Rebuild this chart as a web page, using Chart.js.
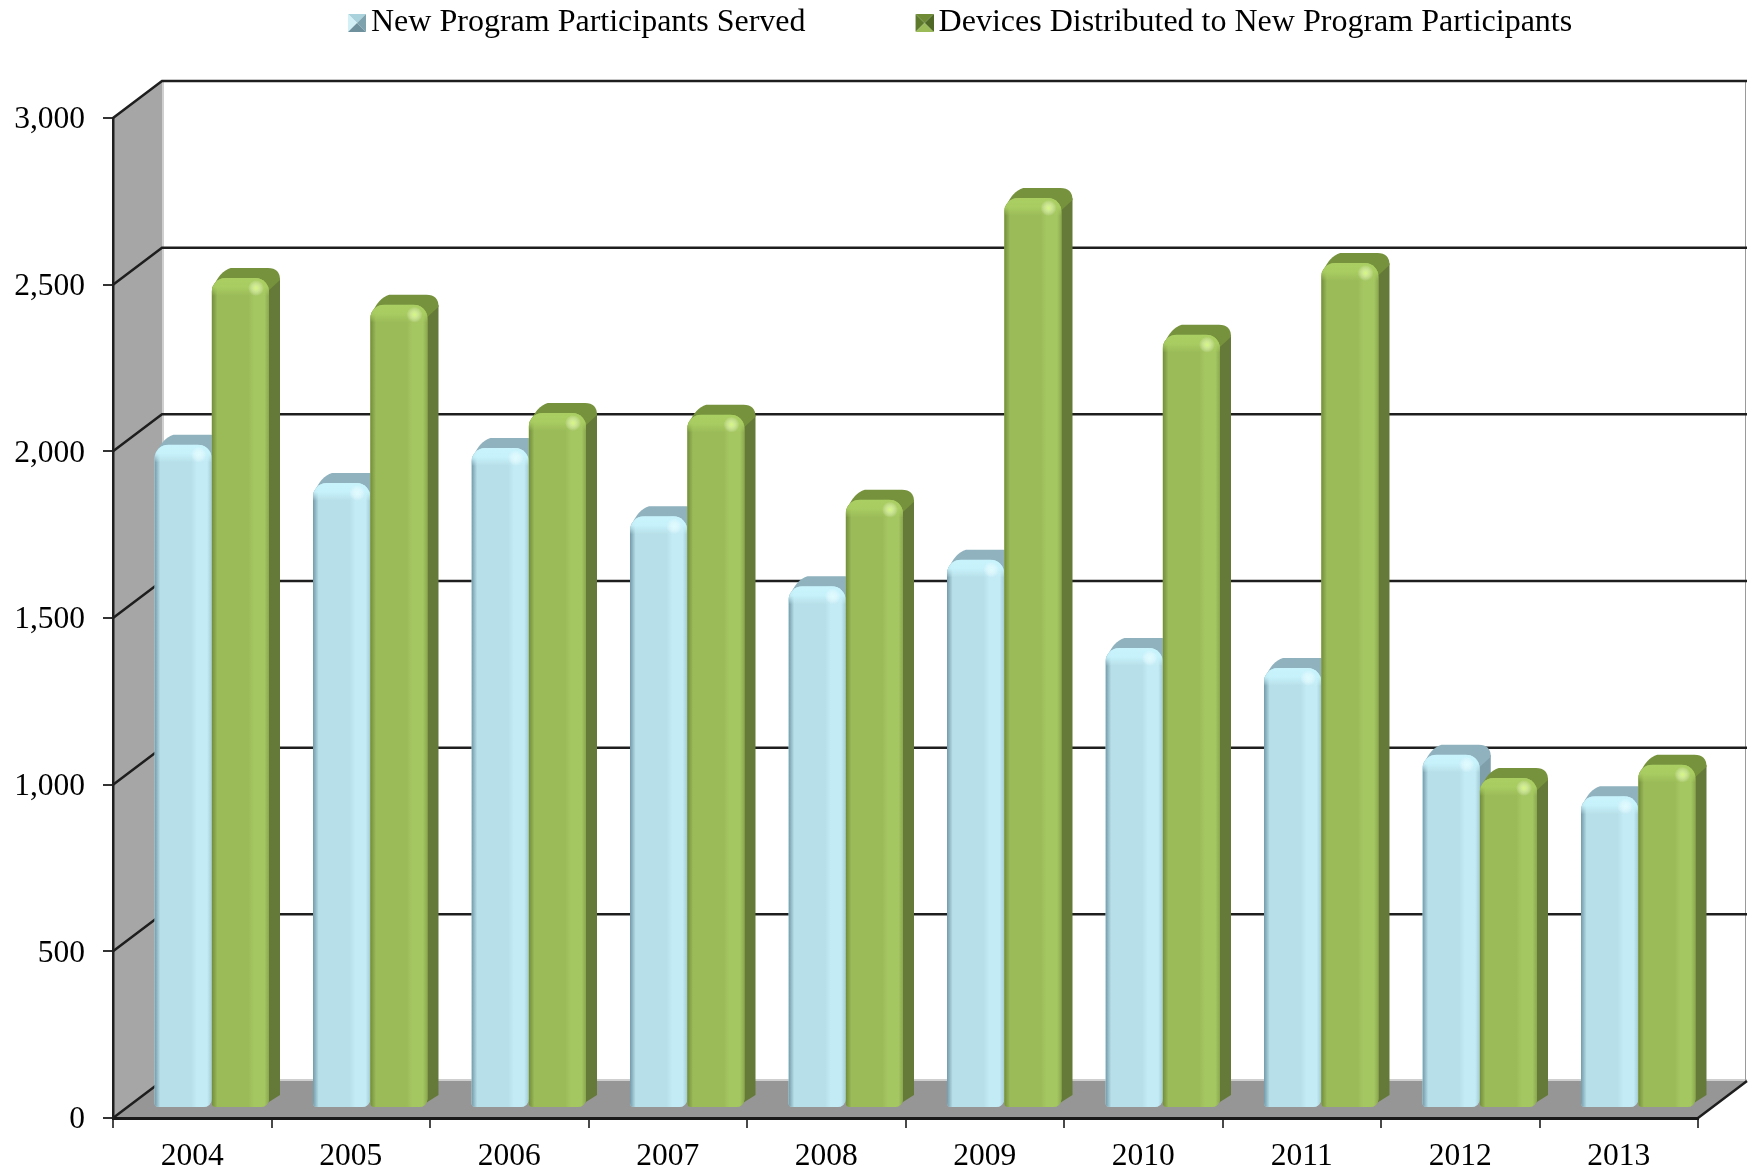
<!DOCTYPE html>
<html>
<head>
<meta charset="utf-8">
<title>New Program Participants and Devices</title>
<script src="https://cdn.jsdelivr.net/npm/chart.js@4/dist/chart.umd.js"></script>
<style>
    html, body { margin: 0; padding: 0; background: #fff; }
    canvas { display: block; }
</style>
</head>
<body>
<canvas id="chart" width="1748" height="1173"></canvas>
<script>
const years = ['2004', '2005', '2006', '2007', '2008', '2009', '2010', '2011', '2012', '2013'];
const participants = [1990, 1875, 1980, 1775, 1565, 1645, 1380, 1320, 1060, 935];
const devices = [2490, 2410, 2085, 2080, 1825, 2730, 2320, 2535, 990, 1030];
const yTicks = [0, 500, 1000, 1500, 2000, 2500, 3000];

const fontName = '"Liberation Serif", "Times New Roman", serif';
const wallDepth = { x: 49, y: 37 };
const barShift = { x: 19.5, y: 10 };
const barDepth = { x: 11, y: 10 };
const cornerRadius = 14;

const blueLook = {
    base: '#b7dfe9', side: '#7f9fab', top: '#8fb2be', edge: 'rgba(112,150,165,0.95)',
    shine: '#c3ebf5', rim: '#a3cbd6', bevel: '200,243,252', dot: 'rgba(226,252,255,0.9)'
};
const greenLook = {
    base: '#9bbb59', side: '#657a38', top: '#76923c', edge: 'rgba(112,138,58,0.95)',
    shine: '#a5c762', rim: '#8aa84e', bevel: '170,206,98', dot: 'rgba(216,250,130,0.95)'
};

function makeMarker(top, left, right, bottom) {
    const c = document.createElement('canvas');
    c.width = 24;
    c.height = 18;
    const g = c.getContext('2d');
    const x0 = 6, x1 = 24, y0 = 0, y1 = 18, mx = 15, my = 9;
    const tri = (color, ax, ay, bx, by) => {
        g.fillStyle = color;
        g.beginPath();
        g.moveTo(ax, ay);
        g.lineTo(bx, by);
        g.lineTo(mx, my);
        g.closePath();
        g.fill();
    };
    tri(top, x0, y0, x1, y0);
    tri(left, x0, y0, x0, y1);
    tri(right, x1, y0, x1, y1);
    tri(bottom, x0, y1, x1, y1);
    return c;
}

const markers = [
    makeMarker('#a9d2dd', '#d3f0f6', '#7fa3ae', '#6f919d'),
    makeMarker('#6f8b35', '#5d7a2c', '#4f6825', '#9bbb59')
];

function paintBar(ctx, bar, look) {
    const l = bar.x - bar.width / 2;
    const r = bar.x + bar.width / 2;
    const t = bar.y;
    const b = bar.base;
    const w = r - l;
    const dx = barDepth.x;
    const dy = barDepth.y;

    // side face
    ctx.fillStyle = look.side;
    ctx.beginPath();
    ctx.moveTo(r - 2, t + 12);
    ctx.lineTo(r + dx, t - dy + 10);
    ctx.lineTo(r + dx, b - dy - 2);
    ctx.lineTo(r - 8, b);
    ctx.closePath();
    ctx.fill();

    // top face
    ctx.fillStyle = look.top;
    ctx.beginPath();
    ctx.moveTo(l + 1, t + 10);
    ctx.quadraticCurveTo(l + dx - 3, t - dy + 3, l + dx + 8, t - dy);
    ctx.lineTo(r + dx - 12, t - dy);
    ctx.quadraticCurveTo(r + dx, t - dy, r + dx, t - dy + 12);
    ctx.lineTo(r - 2, t + 14);
    ctx.closePath();
    ctx.fill();

    // front face comes from the library, shading goes on top of it
    bar.draw(ctx);

    ctx.save();
    ctx.beginPath();
    ctx.roundRect(l, t, w, b - t, [cornerRadius, cornerRadius, 8, 4]);
    ctx.clip();

    const band = ctx.createLinearGradient(l, 0, r, 0);
    band.addColorStop(0, look.edge);
    band.addColorStop(0.1, look.base);
    band.addColorStop(0.64, look.base);
    band.addColorStop(0.74, look.shine);
    band.addColorStop(0.92, look.shine);
    band.addColorStop(1, look.rim);
    ctx.fillStyle = band;
    ctx.fillRect(l, t, w, b - t);

    const cap = ctx.createLinearGradient(0, t, 0, t + 18);
    cap.addColorStop(0, 'rgba(' + look.bevel + ',1)');
    cap.addColorStop(0.5, 'rgba(' + look.bevel + ',0.9)');
    cap.addColorStop(1, 'rgba(' + look.bevel + ',0)');
    ctx.fillStyle = cap;
    ctx.fillRect(l, t, w, 18);

    const spot = ctx.createRadialGradient(r - 13, t + 10, 0, r - 13, t + 10, 8);
    spot.addColorStop(0, look.dot);
    spot.addColorStop(1, 'rgba(255,255,255,0)');
    ctx.fillStyle = spot;
    ctx.fillRect(r - 23, t, 20, 20);
    ctx.restore();
}

const room3d = {
    id: 'room3d',
    beforeDraw(chart) {
        const { ctx, chartArea: area, scales } = chart;
        const y0 = scales.y.getPixelForValue(0);
        const yTop = scales.y.getPixelForValue(3000);
        const backL = area.left + wallDepth.x;
        const backR = area.right + wallDepth.x;
        const backFloor = y0 - wallDepth.y;
        const backTop = yTop - wallDepth.y;

        // y labels sit a little under their ticks in the original
        const items = scales.y.getLabelItems(area);
        if (!items.nudged) {
            items.forEach(item => { item.options.translation[1] += 2; });
            items.nudged = true;
        }

        ctx.save();
        // left wall
        ctx.fillStyle = '#a6a6a6';
        ctx.beginPath();
        ctx.moveTo(area.left, yTop);
        ctx.lineTo(backL, backTop);
        ctx.lineTo(backL, backFloor);
        ctx.lineTo(area.left, y0);
        ctx.closePath();
        ctx.fill();

        // floor
        ctx.fillStyle = '#969696';
        ctx.beginPath();
        ctx.moveTo(area.left, y0);
        ctx.lineTo(backL, backFloor);
        ctx.lineTo(backR, backFloor);
        ctx.lineTo(area.right, y0);
        ctx.closePath();
        ctx.fill();

        // thin seams round the back wall
        ctx.strokeStyle = '#cfcfcf';
        ctx.lineWidth = 2;
        ctx.beginPath();
        ctx.moveTo(backL + 1, backTop);
        ctx.lineTo(backL + 1, backFloor);
        ctx.moveTo(backL, backFloor - 1);
        ctx.lineTo(backR, backFloor - 1);
        ctx.stroke();
        ctx.strokeStyle = '#9a9a9a';
        ctx.lineWidth = 1;
        ctx.beginPath();
        ctx.moveTo(backR - 1.5, backTop);
        ctx.lineTo(backR - 1.5, backFloor);
        ctx.stroke();

        // gridlines run along the back wall and down the side wall
        ctx.strokeStyle = '#1e1e1e';
        ctx.lineWidth = 2.5;
        ctx.beginPath();
        yTicks.forEach(v => {
            const y = scales.y.getPixelForValue(v);
            ctx.moveTo(area.left, y);
            ctx.lineTo(backL, y - wallDepth.y);
            if (v > 0) {
                ctx.lineTo(backR, y - wallDepth.y);
            }
        });
        ctx.moveTo(area.right, y0);
        ctx.lineTo(backR, backFloor);
        ctx.stroke();
        ctx.restore();
    },
    afterLayout(chart) {
        // legend sits off-centre in the original
        const pad = chart.legend.options.labels.padding;
        chart.legend.left = 353 - pad;
        chart.legend.top = 7 - pad;
    },
    beforeDatasetsDraw(chart) {
        const { ctx } = chart;
        const blue = chart.getDatasetMeta(0).data;
        const green = chart.getDatasetMeta(1).data;
        ctx.save();
        ctx.translate(barShift.x, -barShift.y);
        ctx.filter = 'blur(0.6px)';
        years.forEach((year, i) => {
            paintBar(ctx, blue[i], blueLook);
            paintBar(ctx, green[i], greenLook);
        });
        ctx.restore();
        return false;
    }
};

const chart = new Chart(document.getElementById('chart'), {
    type: 'bar',
    data: {
        labels: years,
        datasets: [{
            label: 'New Program Participants Served',
            data: participants,
            backgroundColor: blueLook.base
        }, {
            label: 'Devices Distributed to New Program Participants',
            data: devices,
            backgroundColor: greenLook.base
        }]
    },
    options: {
        responsive: false,
        animation: false,
        layout: { padding: { top: 58, right: 50, bottom: 0, left: 0 } },
        datasets: {
            bar: {
                categoryPercentage: 0.7224,
                barPercentage: 1,
                borderSkipped: false,
                borderRadius: { topLeft: cornerRadius, topRight: cornerRadius, bottomLeft: 4, bottomRight: 8 }
            }
        },
        scales: {
            x: {
                afterFit: s => { s.height = 55; },
                grid: { drawOnChartArea: false, tickLength: 10, color: '#4a4a4a', lineWidth: 2 },
                border: { color: '#1a1a1a', width: 3 },
                ticks: {
                    color: '#000',
                    padding: 10,
                    maxRotation: 0,
                    autoSkip: false,
                    font: { family: fontName, size: 31.5 }
                }
            },
            y: {
                min: 0,
                max: 3000,
                afterFit: s => { s.width = 113; },
                afterBuildTicks: s => { s.ticks = yTicks.map(v => ({ value: v })); },
                grid: { drawOnChartArea: false, tickLength: 10, color: '#333', lineWidth: 2 },
                border: { color: '#1e1e1e', width: 2.5 },
                ticks: {
                    color: '#000',
                    padding: 18,
                    font: { family: fontName, size: 31.5 },
                    callback: v => v.toLocaleString('en-US')
                }
            }
        },
        plugins: {
            tooltip: { enabled: false },
            legend: {
                position: 'top',
                align: 'start',
                maxHeight: 60,
                labels: {
                    usePointStyle: true,
                    pointStyleWidth: 2,
                    padding: 115,
                    color: '#000',
                    font: { family: fontName, size: 32 },
                    generateLabels: c => c.data.datasets.map((d, i) => ({
                        text: d.label,
                        pointStyle: markers[i],
                        datasetIndex: i,
                        fontColor: '#000'
                    }))
                }
            }
        }
    },
    plugins: [room3d]
});
</script>
</body>
</html>
